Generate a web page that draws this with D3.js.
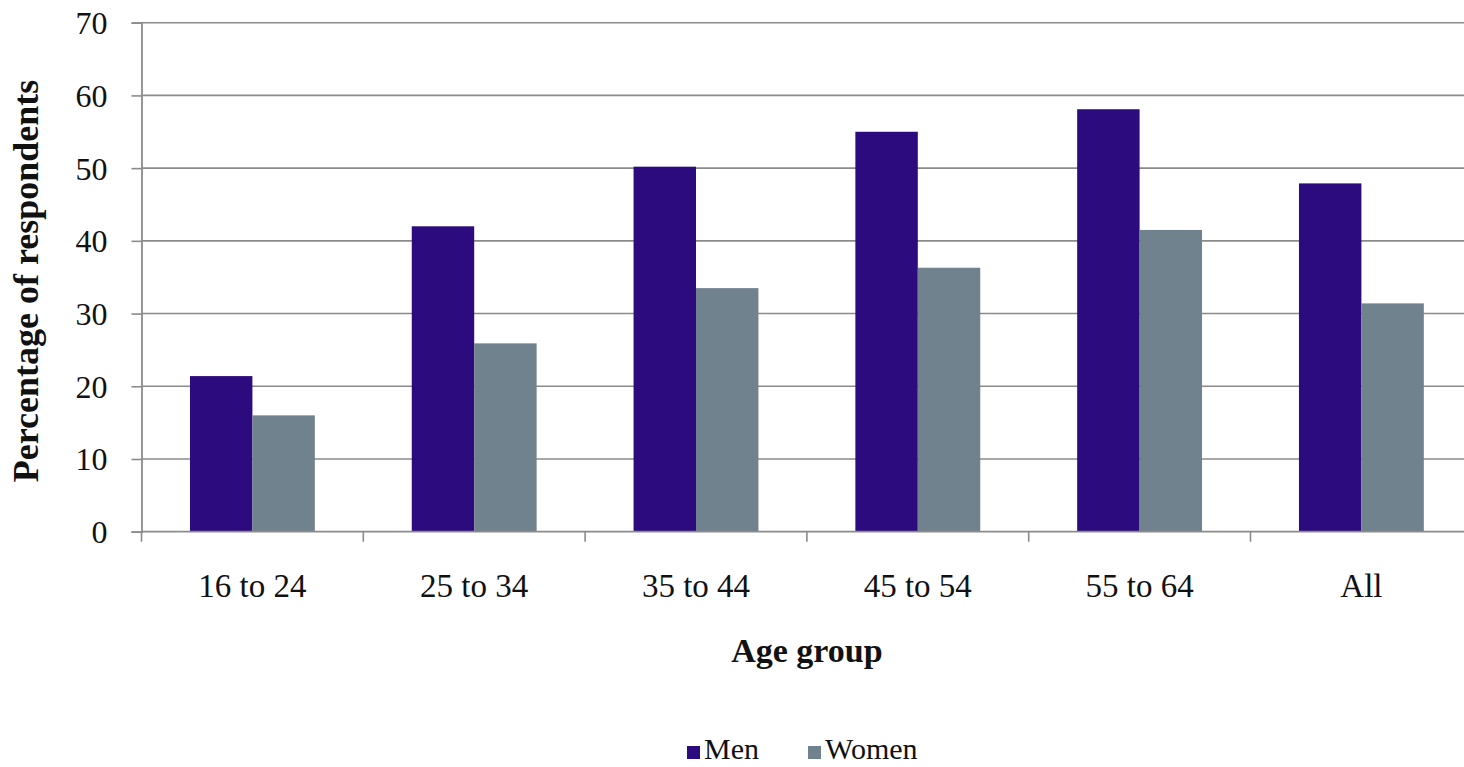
<!DOCTYPE html>
<html>
<head>
<meta charset="utf-8">
<script src="https://cdn.jsdelivr.net/npm/d3@7"></script>
<style>
  html, body { margin: 0; padding: 0; background: #fff; overflow: hidden; }
  svg { display: block; }
  text { font-family: "Liberation Serif", "Times New Roman", serif; fill: #111; }
</style>
</head>
<body>
<svg id="chart" width="1464" height="767"></svg>
<script>
// Share of respondents by age group and sex
const categories = ["16 to 24", "25 to 34", "35 to 44", "45 to 54", "55 to 64", "All"];
const seriesNames = ["Men", "Women"];
const menValues = [21.4, 42.0, 50.2, 55.0, 58.1, 47.9];
const womenValues = [16.0, 25.9, 33.5, 36.3, 41.5, 31.4];
const yTicks = [0, 10, 20, 30, 40, 50, 60, 70];
const colors = { Men: "#2c0b7e", Women: "#71828f" };

const rows = categories.map((c, i) => ({ category: c, Men: menValues[i], Women: womenValues[i] }));

const svg = d3.select("#chart");
const plotLeft = 141.5, plotTop = 22.7, plotBottom = 531.7, step = 221.8;
const plotRight = plotLeft + step * categories.length;

const x0 = d3.scaleBand().domain(categories).range([plotLeft, plotRight]).padding(0);
const x1 = d3.scaleBand().domain(seriesNames)
  .range([step * 0.2185, step * 0.7815]).padding(0);
const y = d3.scaleLinear().domain([0, 70]).range([plotBottom, plotTop]);

const gridColor = "#8b8b8b";

// horizontal gridlines
svg.append("g")
  .selectAll("line")
  .data(yTicks.filter(d => d > 0))
  .join("line")
  .attr("x1", plotLeft).attr("x2", plotRight)
  .attr("y1", d => y(d)).attr("y2", d => y(d))
  .attr("stroke", gridColor).attr("stroke-width", 1.6);

// bars
const groups = svg.append("g")
  .selectAll("g")
  .data(rows)
  .join("g")
  .attr("transform", d => `translate(${x0(d.category)},0)`);

groups.selectAll("rect")
  .data(d => seriesNames.map(s => ({ key: s, value: d[s] })))
  .join("rect")
  .attr("x", d => x1(d.key))
  .attr("width", x1.bandwidth())
  .attr("y", d => y(d.value))
  .attr("height", d => y(0) - y(d.value))
  .attr("fill", d => colors[d.key]);

// y axis
const yAxis = svg.append("g")
  .attr("transform", `translate(${plotLeft},0)`)
  .call(d3.axisLeft(y).tickValues(yTicks).tickSize(10).tickPadding(24).tickFormat(d3.format("d")));
yAxis.select(".domain").attr("stroke", gridColor).attr("stroke-width", 1.8);
yAxis.selectAll(".tick line").attr("stroke", gridColor).attr("stroke-width", 1.6);
yAxis.selectAll(".tick text")
  .style("font-family", '"Liberation Serif", serif')
  .style("font-size", "32px").attr("fill", "#111").attr("dy", "0.34em");

// x axis with ticks at category boundaries
const xAxisG = svg.append("g").attr("transform", `translate(0,${plotBottom})`);
xAxisG.append("line")
  .attr("x1", plotLeft).attr("x2", plotRight).attr("y1", 0).attr("y2", 0)
  .attr("stroke", gridColor).attr("stroke-width", 1.8);
xAxisG.selectAll("line.boundary")
  .data(categories.map(c => x0(c)).concat([plotRight]))
  .join("line")
  .attr("class", "boundary")
  .attr("x1", d => d).attr("x2", d => d)
  .attr("y1", 0).attr("y2", 10)
  .attr("stroke", gridColor).attr("stroke-width", 1.6);
xAxisG.selectAll("text")
  .data(categories)
  .join("text")
  .attr("x", d => x0(d) + x0.bandwidth() / 2)
  .attr("y", 65)
  .attr("text-anchor", "middle")
  .style("font-size", "33px")
  .text(d => d);

// axis titles
svg.append("text")
  .attr("x", (plotLeft + plotRight) / 2)
  .attr("y", 662)
  .attr("text-anchor", "middle")
  .style("font-size", "34px").style("font-weight", "bold")
  .text("Age group");

svg.append("text")
  .attr("transform", "translate(38,281) rotate(-90)")
  .attr("text-anchor", "middle")
  .style("font-size", "36px").style("font-weight", "bold")
  .text("Percentage of respondents");

// legend
const legendItems = [{ key: "Men", x: 687 }, { key: "Women", x: 808 }];
const legend = svg.append("g");
legend.selectAll("rect")
  .data(legendItems)
  .join("rect")
  .attr("x", d => d.x).attr("y", 746)
  .attr("width", 13).attr("height", 13)
  .attr("fill", d => colors[d.key]);
legend.selectAll("text")
  .data(legendItems)
  .join("text")
  .attr("x", d => d.x + 17).attr("y", 759)
  .style("font-size", "30px")
  .text(d => d.key);
</script>
</body>
</html>
